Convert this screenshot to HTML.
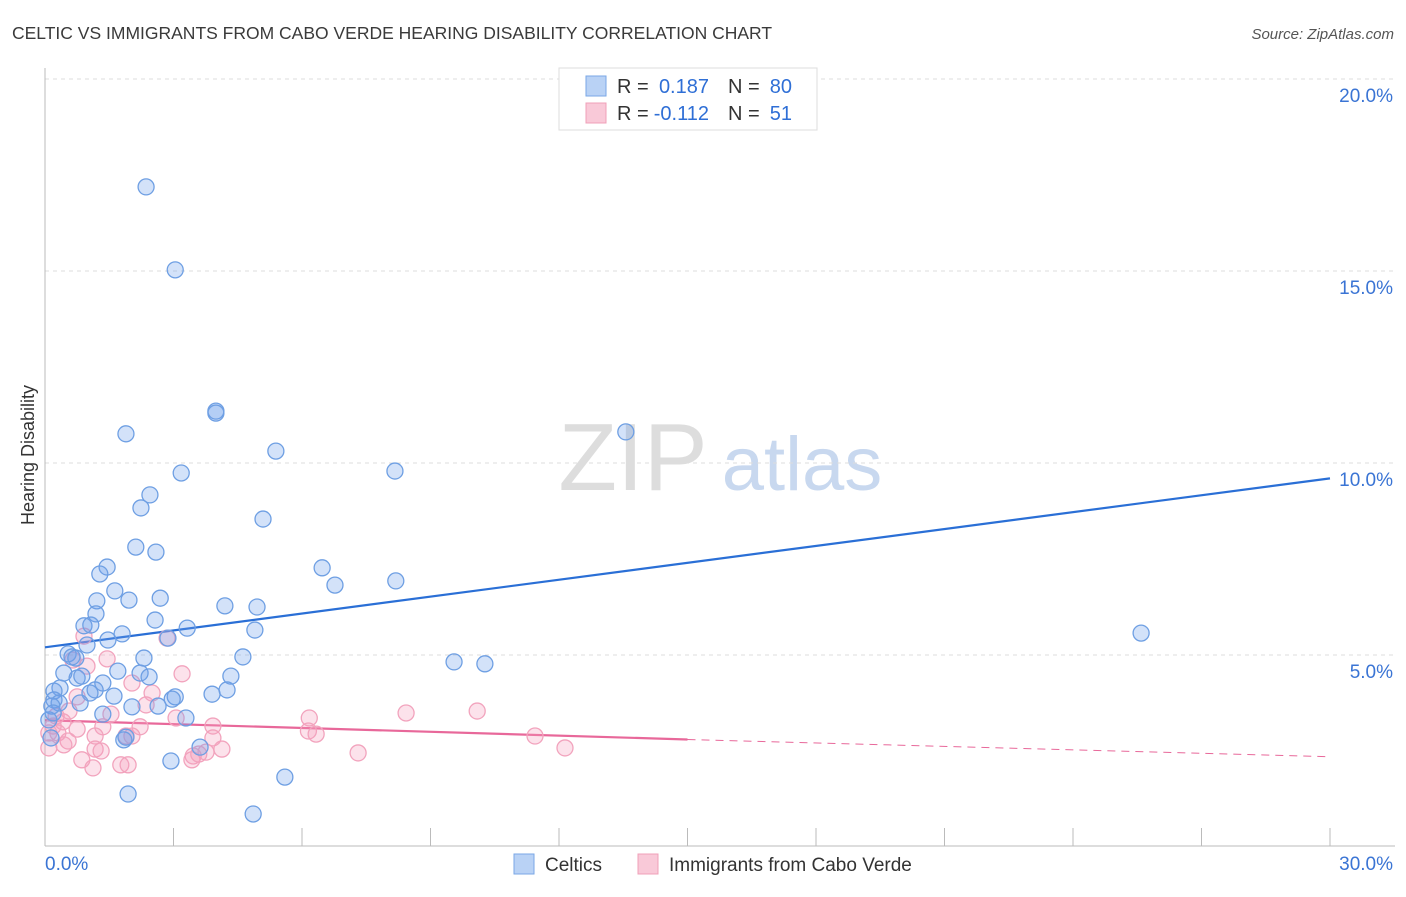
<!DOCTYPE html>
<html><head><meta charset="utf-8"><style>
body{margin:0;background:#fff;font-family:"Liberation Sans",sans-serif;}
svg text{font-family:"Liberation Sans",sans-serif;}
</style></head><body>
<svg id="chart" width="1406" height="892" xmlns="http://www.w3.org/2000/svg">
<text x="12" y="39" font-size="17.5" fill="#3a3a3a">CELTIC VS IMMIGRANTS FROM CABO VERDE HEARING DISABILITY CORRELATION CHART</text>
<text x="1394" y="39" font-size="15" fill="#555" font-style="italic" text-anchor="end">Source: ZipAtlas.com</text>
<text x="0" y="0" transform="translate(34,455) rotate(-90)" font-size="18" fill="#333" text-anchor="middle">Hearing Disability</text>
<g id="watermark">
<text x="633" y="490" font-size="96" fill="#ddd" font-family="Liberation Serif" text-anchor="middle">ZIP</text>
<text x="802" y="490" font-size="76" fill="#c8d8ef" text-anchor="middle">atlas</text>
</g>
<g id="grid"></g><g id="axes"></g><g id="trends"></g><g id="points"></g>
<g>
<rect x="559" y="68" width="258" height="62" fill="#fff" stroke="#ddd"/>
<rect x="586" y="76" width="20" height="20" fill="#b9d2f5" stroke="#7aa7e6"/>
<rect x="586" y="103" width="20" height="20" fill="#f9c9d8" stroke="#f0a0b8"/>
<text x="617" y="93" font-size="20" fill="#333">R =</text>
<text x="709" y="93" font-size="20" fill="#2f6fd6" text-anchor="end">0.187</text>
<text x="728" y="93" font-size="20" fill="#333">N =</text>
<text x="792" y="93" font-size="20" fill="#2f6fd6" text-anchor="end">80</text>
<text x="617" y="120" font-size="20" fill="#333">R =</text>
<text x="709" y="120" font-size="20" fill="#2f6fd6" text-anchor="end">-0.112</text>
<text x="728" y="120" font-size="20" fill="#333">N =</text>
<text x="792" y="120" font-size="20" fill="#2f6fd6" text-anchor="end">51</text>
</g>
<g>
<rect x="514" y="854" width="20" height="20" fill="#b9d2f5" stroke="#7aa7e6"/>
<text x="545" y="871" font-size="19" fill="#333">Celtics</text>
<rect x="638" y="854" width="20" height="20" fill="#f9c9d8" stroke="#f0a0b8"/>
<text x="669" y="871" font-size="19" fill="#333">Immigrants from Cabo Verde</text>
</g>
</svg>
<script>
const yTicks=[5,10,15,20];
const yTickLabels=["5.0%","10.0%","15.0%","20.0%"];
const xTickCount=10;
const blueX=[2.36,3.04,3.99,3.99,1.89,13.56,5.39,3.18,8.17,2.45,2.24,5.09,2.12,2.59,1.45,1.28,6.47,6.77,8.19,1.63,1.21,1.96,2.69,4.20,4.95,1.19,2.57,3.32,4.90,25.59,0.91,1.07,1.80,1.47,2.87,0.98,0.54,0.63,0.72,2.31,4.62,9.55,10.27,0.44,1.70,2.22,2.43,4.34,0.75,0.86,1.35,1.17,0.35,0.21,1.05,1.61,3.04,2.97,3.90,4.25,0.21,0.33,0.82,0.16,2.03,2.64,1.35,3.29,1.84,1.89,3.62,2.94,5.60,1.94,4.86,0.14,0.09,0.19];
const blueY=[17.19,15.03,11.35,11.30,10.76,10.81,10.31,9.74,9.79,9.17,8.83,8.54,7.81,7.68,7.29,7.11,7.27,6.82,6.93,6.67,6.41,6.43,6.48,6.28,6.25,6.07,5.91,5.70,5.65,5.57,5.76,5.78,5.55,5.39,5.44,5.26,5.03,4.95,4.92,4.92,4.95,4.82,4.77,4.53,4.58,4.53,4.43,4.45,4.40,4.45,4.27,4.09,4.14,4.06,4.01,3.93,3.91,3.85,3.98,4.09,3.83,3.75,3.75,3.67,3.65,3.67,3.46,3.36,2.79,2.86,2.60,2.24,1.82,1.38,0.86,2.84,3.31,3.49];
const pinkX=[0.91,2.85,0.98,1.45,0.65,3.20,2.03,2.50,0.75,2.36,1.54,3.06,0.56,0.26,0.42,8.43,10.09,6.17,3.92,1.35,2.22,0.75,0.19,0.30,6.15,6.33,11.44,1.17,1.89,2.03,3.92,0.09,0.54,0.09,1.17,1.31,4.13,3.76,3.46,7.31,12.14,0.86,1.77,1.94,1.12,3.43,3.59,0.44];
const pinkY=[5.49,5.44,4.71,4.90,4.87,4.51,4.27,4.01,3.91,3.70,3.46,3.36,3.54,3.41,3.26,3.49,3.54,3.36,3.15,3.13,3.13,3.07,3.15,2.97,3.02,2.94,2.89,2.89,2.89,2.89,2.84,2.97,2.76,2.58,2.55,2.50,2.55,2.47,2.37,2.45,2.58,2.27,2.14,2.14,2.06,2.27,2.42,2.66];
const blueTrend=[0,5.2,30,9.6];
const pinkTrend=[0,3.3,15,2.8,30,2.35];
const NS="http://www.w3.org/2000/svg";
const X=v=>45+v/30*1285, Y=v=>847-v/5*192;
function mk(tag,attrs,parent){const e=document.createElementNS(NS,tag);for(const k in attrs)e.setAttribute(k,attrs[k]);document.getElementById(parent).appendChild(e);return e;}
yTicks.forEach((t,i)=>{
 const l=mk('line',{x1:45,x2:1395,y1:Y(t),y2:Y(t),stroke:'#ddd','stroke-dasharray':'4,4'},'grid');
 
 
 const tx=mk('text',{x:1393,y:Y(t)+23,'font-size':19,fill:'#3a74d4','text-anchor':'end'},'grid');tx.textContent=yTickLabels[i];
 
 
});
const ax=mk('line',{x1:45,x2:45,y1:68,y2:846,stroke:'#bbb'},'axes');


const bx=mk('line',{x1:45,x2:1395,y1:846,y2:846,stroke:'#bbb'},'axes');


for(let i=0;i<=xTickCount;i++){const x=X(i*3);const t=mk('line',{x1:x,x2:x,y1:828,y2:846,stroke:'#bbb'},'axes');
 
 }
const x0=mk('text',{x:45,y:870,'font-size':19,fill:'#3a74d4'},'axes');x0.textContent='0.0%';


const x1=mk('text',{x:1393,y:870,'font-size':19,fill:'#3a74d4','text-anchor':'end'},'axes');x1.textContent='30.0%';


const bt=mk('line',{x1:X(blueTrend[0]),y1:Y(blueTrend[1]),x2:X(blueTrend[2]),y2:Y(blueTrend[3]),stroke:'#2a6fd6','stroke-width':2.2},'trends');


const pt=mk('line',{x1:X(pinkTrend[0]),y1:Y(pinkTrend[1]),x2:X(pinkTrend[2]),y2:Y(pinkTrend[3]),stroke:'#e8689a','stroke-width':2.2},'trends');


const pd=mk('line',{x1:X(pinkTrend[2]),y1:Y(pinkTrend[3]),x2:X(pinkTrend[4]),y2:Y(pinkTrend[5]),stroke:'#e8689a','stroke-width':1,'stroke-dasharray':'8,6'},'trends');


pinkX.forEach((v,i)=>{const c=mk('circle',{cx:X(v),cy:Y(pinkY[i]),r:8,fill:'rgba(245,160,190,0.3)',stroke:'#f2a3bd','stroke-width':1.3},'points');
 
 });
blueX.forEach((v,i)=>{const c=mk('circle',{cx:X(v),cy:Y(blueY[i]),r:8,fill:'rgba(110,160,235,0.3)',stroke:'#6e9fe3','stroke-width':1.3},'points');
 
 });
</script>
</body></html>
